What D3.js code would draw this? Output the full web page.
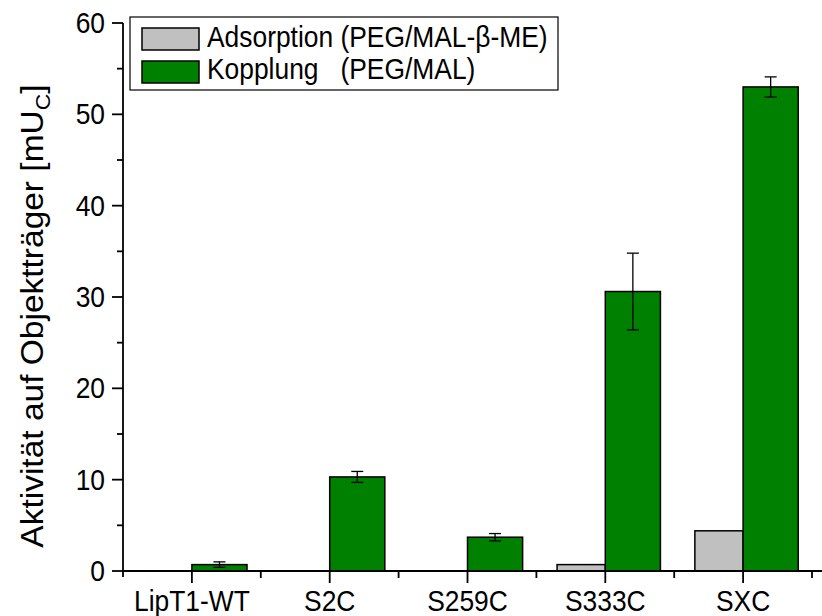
<!DOCTYPE html>
<html>
<head>
<meta charset="utf-8">
<script src="https://cdn.jsdelivr.net/npm/d3@7"></script>
<style>
  html, body { margin: 0; padding: 0; background: #fff; }
  svg { display: block; }
  text { font-family: "Liberation Sans", Arial, sans-serif; fill: #000; }
</style>
</head>
<body>
<svg id="chart" width="822" height="616"></svg>
<script>
// Samples on the x axis
const categories = ["LipT1-WT", "S2C", "S259C", "S333C", "SXC"];
// Adsorption (PEG/MAL-β-ME) activity, mU_C
const adsorption = [0, 0, 0, 0.7, 4.4];
// Kopplung (PEG/MAL) activity, mU_C, with standard deviation
const kopplung = [0.7, 10.3, 3.7, 30.6, 53.0];
const kopplungErr = [0.3, 0.6, 0.4, 4.2, 1.1];
// Y axis ticks
const yMajorTicks = [0, 10, 20, 30, 40, 50, 60];
const yMinorTicks = [5, 15, 25, 35, 45, 55];
const legendLabels = ["Adsorption (PEG/MAL-\u03B2-ME)", "Kopplung   (PEG/MAL)"];
const colors = ["#c0c0c0", "#008000"];

// Text is set in a slightly narrow face
const SX = 0.91;
const FS = 29;

const svg = d3.select("#chart");

const x = d3.scaleBand().domain(categories).range([123, 812]).paddingInner(0).paddingOuter(0);
const y = d3.scaleLinear().domain([0, 60]).range([571, 23]);
const bw = x.bandwidth();
const center = c => x(c) + bw / 2;

// Bars: adsorption to the left of the category center, coupling to the right
const gBars = svg.append("g");
gBars.selectAll("rect.ads")
  .data(categories.map((c, i) => ({ c, v: adsorption[i] })).filter(d => d.v > 0))
  .join("rect")
  .attr("class", "ads")
  .attr("x", d => center(d.c) - bw * 0.35)
  .attr("width", bw * 0.35)
  .attr("y", d => y(d.v))
  .attr("height", d => y(0) - y(d.v))
  .attr("fill", colors[0])
  .attr("stroke", "#000")
  .attr("stroke-width", 1.5);

const kopData = categories.map((c, i) => ({ c, v: kopplung[i], e: kopplungErr[i] }));
gBars.selectAll("rect.kop")
  .data(kopData)
  .join("rect")
  .attr("class", "kop")
  .attr("x", d => center(d.c))
  .attr("width", bw * 0.4)
  .attr("y", d => y(d.v))
  .attr("height", d => y(0) - y(d.v))
  .attr("fill", colors[1])
  .attr("stroke", "#000")
  .attr("stroke-width", 1.5);

// Error bars on the coupling bars
const gErr = svg.append("g").attr("stroke", "#000").attr("stroke-width", 1.3);
kopData.forEach(d => {
  const cx = center(d.c) + bw * 0.2;
  gErr.append("line").attr("x1", cx).attr("x2", cx).attr("y1", y(d.v + d.e)).attr("y2", y(d.v - d.e));
  gErr.append("line").attr("x1", cx - 6).attr("x2", cx + 6).attr("y1", y(d.v + d.e)).attr("y2", y(d.v + d.e));
  gErr.append("line").attr("x1", cx - 6).attr("x2", cx + 6).attr("y1", y(d.v - d.e)).attr("y2", y(d.v - d.e));
});

// X axis: line, major ticks at centers, minor ticks at band edges
const gx = svg.append("g").attr("stroke", "#000").attr("stroke-width", 1.8);
gx.append("line").attr("x1", 123).attr("x2", 822).attr("y1", y(0)).attr("y2", y(0));
categories.forEach(c => {
  gx.append("line").attr("x1", center(c)).attr("x2", center(c)).attr("y1", y(0)).attr("y2", y(0) + 12);
  gx.append("line").attr("x1", x(c) + bw).attr("x2", x(c) + bw).attr("y1", y(0)).attr("y2", y(0) + 7);
});
svg.append("g").selectAll("text")
  .data(categories)
  .join("text")
  .attr("transform", d => `translate(${center(d)},611) scale(${SX},1)`)
  .attr("text-anchor", "middle")
  .attr("font-size", FS)
  .text(d => d);

// Y axis
const gy = svg.append("g").attr("stroke", "#000").attr("stroke-width", 1.8);
gy.append("line").attr("x1", 123).attr("x2", 123).attr("y1", y(60)).attr("y2", y(0) + 6);
yMajorTicks.forEach(t => {
  gy.append("line").attr("x1", 112).attr("x2", 123).attr("y1", y(t)).attr("y2", y(t));
});
yMinorTicks.forEach(t => {
  gy.append("line").attr("x1", 117).attr("x2", 123).attr("y1", y(t)).attr("y2", y(t));
});
svg.append("g").selectAll("text")
  .data(yMajorTicks)
  .join("text")
  .attr("transform", d => `translate(105,${y(d)}) scale(${SX},1)`)
  .attr("dy", "0.35em")
  .attr("text-anchor", "end")
  .attr("font-size", FS)
  .text(d => d);

// Y axis title with subscript
const yTitle = svg.append("text")
  .attr("transform", `translate(43,316) scale(${SX},1) rotate(-90)`)
  .attr("text-anchor", "middle")
  .attr("font-size", 33.5);
yTitle.append("tspan").text("Aktivit\u00E4t auf Objekttr\u00E4ger [mU");
yTitle.append("tspan").attr("font-size", 23).attr("dy", 8).text("C");
yTitle.append("tspan").attr("dy", -8).text("]");

// Legend
const lg = svg.append("g");
lg.append("rect").attr("x", 130).attr("y", 17).attr("width", 428).attr("height", 73)
  .attr("fill", "#fff").attr("stroke", "#000").attr("stroke-width", 1.2);
legendLabels.forEach((lbl, i) => {
  lg.append("rect").attr("x", 142).attr("y", 28 + i * 33).attr("width", 57).attr("height", 22)
    .attr("fill", colors[i]).attr("stroke", "#000").attr("stroke-width", 1.5);
  lg.append("text")
    .attr("transform", `translate(207,${47 + i * 32}) scale(${SX},1)`)
    .attr("font-size", FS).style("white-space", "pre").text(lbl);
});
</script>
</body>
</html>
